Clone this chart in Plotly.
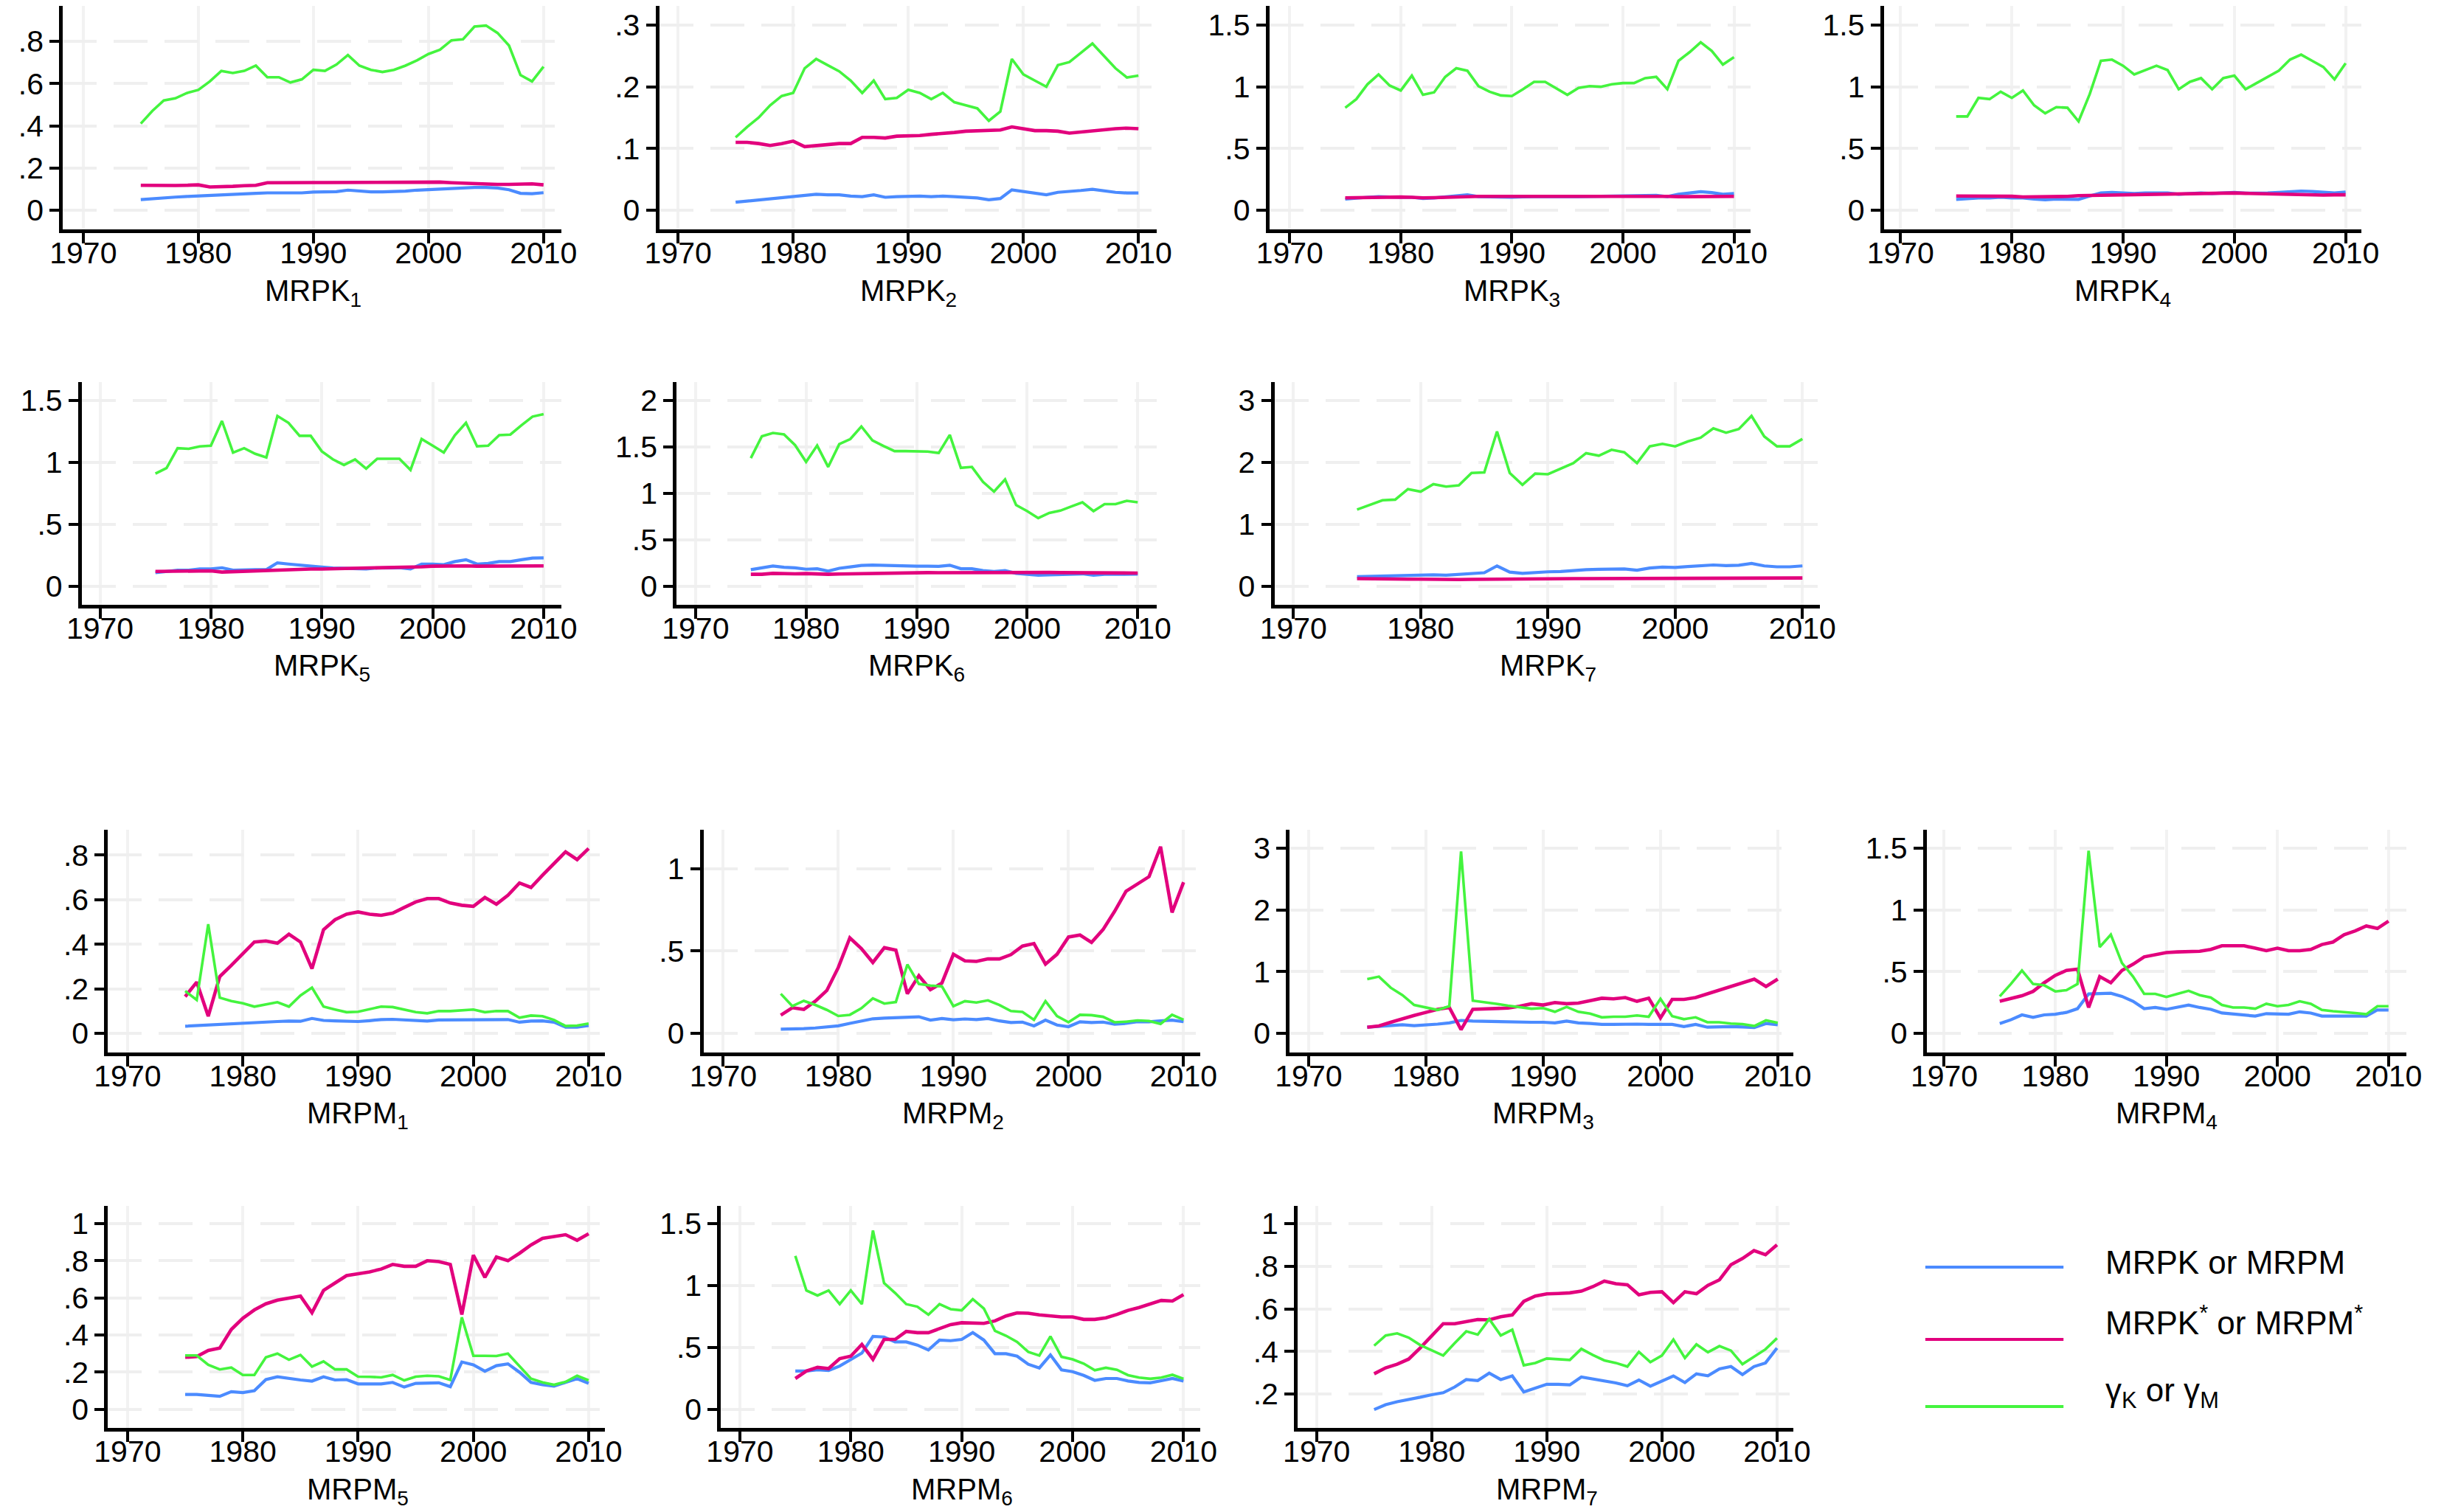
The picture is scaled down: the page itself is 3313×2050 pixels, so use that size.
import plotly.graph_objects as go

W, H = 3313, 2050
years = list(range(1975, 2011))

# ---------------- data ----------------
K1_base = [0.05,0.055,0.06,0.062,0.065,0.068,0.068,0.072,0.075,0.078,
           0.08,0.082,0.082,0.08,0.082,0.086,0.088,0.088,0.095,0.09,
           0.087,0.087,0.088,0.09,0.095,0.098,0.1,0.103,0.104,0.108,
           0.108,0.105,0.097,0.08,0.078,0.083]
K1_star = [0.118,0.117,0.116,0.117,0.118,0.12,0.11,0.11,0.113,0.116,
           0.118,0.13,0.131,0.131,0.131,0.131,0.131,0.131,0.132,0.132,
           0.133,0.133,0.133,0.132,0.133,0.134,0.133,0.13,0.127,0.124,
           0.123,0.122,0.122,0.123,0.125,0.12]
K1_gamma = [0.41,0.47,0.52,0.53,0.555,0.57,0.61,0.66,0.65,0.66,
            0.685,0.63,0.63,0.605,0.62,0.665,0.66,0.69,0.735,0.685,
            0.665,0.655,0.665,0.685,0.71,0.74,0.76,0.805,0.81,0.87,
            0.875,0.84,0.78,0.64,0.61,0.68]

K2_base = [0.013,0.015,0.017,0.019,0.021,0.023,0.025,0.026,0.025,0.025,
           0.023,0.022,0.025,0.021,0.022,0.023,0.023,0.022,0.023,0.022,
           0.021,0.02,0.017,0.019,0.033,0.03,0.027,0.025,0.029,0.03,
           0.032,0.034,0.031,0.029,0.028,0.028]
K2_star = [0.11,0.11,0.108,0.105,0.108,0.112,0.103,0.105,0.106,0.108,
           0.108,0.118,0.118,0.117,0.12,0.12,0.121,0.123,0.124,0.126,
           0.128,0.129,0.13,0.13,0.135,0.132,0.129,0.129,0.128,0.125,
           0.127,0.128,0.13,0.132,0.133,0.132]
K2_gamma = [0.118,0.135,0.15,0.17,0.185,0.19,0.23,0.245,0.235,0.225,
            0.21,0.19,0.21,0.18,0.182,0.195,0.19,0.18,0.19,0.175,
            0.17,0.165,0.145,0.16,0.245,0.22,0.21,0.2,0.235,0.24,
            0.255,0.27,0.25,0.23,0.215,0.218]

K3_base = [0.09,0.1,0.105,0.11,0.105,0.105,0.105,0.095,0.1,0.11,
           0.12,0.125,0.11,0.107,0.105,0.105,0.108,0.112,0.112,0.11,
           0.107,0.11,0.112,0.113,0.115,0.117,0.117,0.12,0.12,0.11,
           0.13,0.14,0.15,0.143,0.13,0.135]
K3_star = [0.1,0.102,0.103,0.105,0.105,0.107,0.105,0.1,0.102,0.105,
           0.108,0.113,0.112,0.112,0.112,0.112,0.112,0.112,0.113,0.112,
           0.112,0.113,0.114,0.115,0.115,0.116,0.116,0.117,0.118,0.112,
           0.11,0.11,0.111,0.112,0.112,0.112]
K3_gamma = [0.83,0.90,1.02,1.10,1.01,0.97,1.09,0.935,0.955,1.08,
            1.15,1.13,1.005,0.96,0.93,0.925,0.98,1.04,1.04,0.99,
            0.935,0.99,1.005,1.0,1.02,1.03,1.03,1.07,1.08,0.98,
            1.21,1.28,1.36,1.29,1.18,1.24]

K4_base = [0.088,0.095,0.1,0.1,0.105,0.1,0.1,0.09,0.085,0.09,
           0.09,0.088,0.115,0.14,0.145,0.14,0.135,0.14,0.14,0.14,
           0.13,0.135,0.14,0.135,0.14,0.145,0.138,0.138,0.14,0.145,
           0.15,0.155,0.152,0.145,0.14,0.148]
K4_star = [0.115,0.115,0.113,0.113,0.115,0.113,0.108,0.108,0.11,0.11,
           0.112,0.118,0.12,0.122,0.123,0.125,0.125,0.127,0.13,0.13,
           0.132,0.135,0.137,0.137,0.14,0.14,0.137,0.135,0.132,0.13,
           0.125,0.122,0.122,0.123,0.125,0.125]
K4_gamma = [0.76,0.76,0.91,0.90,0.96,0.91,0.97,0.85,0.785,0.835,
            0.83,0.72,0.94,1.21,1.22,1.17,1.10,1.135,1.17,1.135,
            0.98,1.04,1.07,0.98,1.07,1.09,0.98,1.03,1.08,1.13,
            1.22,1.26,1.21,1.16,1.06,1.19]

K5_base = [0.11,0.12,0.13,0.13,0.14,0.14,0.15,0.13,0.135,0.135,
           0.135,0.19,0.18,0.17,0.165,0.155,0.148,0.145,0.145,0.14,
           0.148,0.15,0.15,0.14,0.18,0.18,0.175,0.2,0.215,0.18,
           0.185,0.2,0.2,0.215,0.228,0.23]
K5_star = [0.12,0.12,0.12,0.12,0.125,0.125,0.115,0.118,0.122,0.125,
           0.128,0.135,0.137,0.14,0.14,0.14,0.142,0.143,0.143,0.143,
           0.145,0.147,0.15,0.152,0.158,0.163,0.165,0.168,0.165,0.163,
           0.163,0.165,0.165,0.168,0.168,0.165]
K5_gamma = [0.91,0.955,1.115,1.11,1.13,1.135,1.335,1.08,1.115,1.07,
            1.04,1.375,1.32,1.215,1.215,1.09,1.025,0.98,1.025,0.95,
            1.03,1.03,1.03,0.94,1.19,1.135,1.08,1.22,1.32,1.13,
            1.135,1.22,1.225,1.3,1.37,1.39]

K6_base = [0.18,0.2,0.22,0.205,0.2,0.185,0.19,0.165,0.195,0.21,
           0.225,0.23,0.225,0.22,0.218,0.218,0.218,0.215,0.228,0.19,
           0.19,0.17,0.16,0.17,0.14,0.13,0.12,0.125,0.13,0.13,
           0.135,0.12,0.13,0.13,0.133,0.132]
K6_star = [0.13,0.13,0.14,0.135,0.135,0.138,0.13,0.13,0.133,0.135,
           0.138,0.145,0.147,0.148,0.148,0.148,0.148,0.147,0.148,0.145,
           0.148,0.15,0.152,0.153,0.153,0.152,0.15,0.15,0.148,0.147,
           0.145,0.145,0.145,0.145,0.143,0.143]
K6_gamma = [1.38,1.615,1.65,1.635,1.52,1.34,1.515,1.285,1.53,1.585,
            1.72,1.57,1.51,1.455,1.455,1.45,1.45,1.435,1.63,1.275,
            1.285,1.125,1.02,1.15,0.875,0.81,0.735,0.79,0.815,0.86,
            0.905,0.81,0.885,0.885,0.92,0.905]

K7_base = [0.155,0.16,0.165,0.17,0.18,0.185,0.185,0.18,0.19,0.21,
           0.22,0.33,0.23,0.21,0.225,0.235,0.24,0.26,0.27,0.275,
           0.28,0.28,0.26,0.295,0.31,0.305,0.32,0.33,0.345,0.335,
           0.34,0.37,0.33,0.315,0.315,0.33]
K7_star = [0.125,0.12,0.12,0.118,0.115,0.115,0.11,0.108,0.11,0.112,
           0.115,0.118,0.12,0.122,0.122,0.123,0.124,0.125,0.125,0.125,
           0.125,0.125,0.123,0.125,0.13,0.13,0.132,0.133,0.133,0.13,
           0.13,0.132,0.133,0.135,0.135,0.135]
K7_gamma = [1.24,1.32,1.39,1.40,1.57,1.53,1.65,1.61,1.63,1.83,
            1.84,2.50,1.83,1.64,1.82,1.81,1.90,1.99,2.15,2.11,
            2.205,2.165,1.99,2.26,2.30,2.26,2.34,2.40,2.55,2.48,
            2.54,2.75,2.42,2.26,2.26,2.38]

M1_base = [0.032,0.035,0.038,0.04,0.042,0.045,0.048,0.05,0.053,0.055,
           0.054,0.067,0.058,0.056,0.055,0.053,0.057,0.062,0.063,0.06,
           0.057,0.055,0.06,0.06,0.06,0.062,0.062,0.06,0.062,0.05,
           0.055,0.056,0.05,0.028,0.028,0.035]
M1_star = [0.165,0.23,0.077,0.255,0.305,0.355,0.41,0.415,0.405,0.445,
           0.41,0.29,0.465,0.51,0.535,0.545,0.535,0.53,0.54,0.565,
           0.59,0.605,0.605,0.585,0.575,0.57,0.61,0.58,0.62,0.675,
           0.655,0.71,0.76,0.815,0.78,0.83]
M1_gamma = [0.19,0.15,0.49,0.16,0.145,0.135,0.12,0.13,0.14,0.12,
            0.17,0.205,0.12,0.107,0.095,0.097,0.11,0.12,0.118,0.107,
            0.095,0.09,0.1,0.1,0.103,0.107,0.095,0.1,0.1,0.07,
            0.08,0.077,0.06,0.033,0.035,0.044]

M2_base = [0.025,0.025,0.028,0.032,0.038,0.045,0.06,0.075,0.088,0.092,
           0.095,0.098,0.1,0.08,0.09,0.082,0.087,0.083,0.09,0.075,
           0.065,0.068,0.045,0.08,0.05,0.04,0.07,0.065,0.068,0.055,
           0.06,0.07,0.07,0.075,0.08,0.07]
M2_star = [0.11,0.155,0.145,0.195,0.26,0.40,0.58,0.515,0.43,0.52,
           0.505,0.24,0.35,0.265,0.305,0.48,0.44,0.437,0.452,0.452,
           0.478,0.53,0.545,0.42,0.48,0.585,0.597,0.552,0.63,0.74,
           0.863,0.91,0.952,1.134,0.734,0.918]
M2_gamma = [0.24,0.165,0.197,0.172,0.142,0.105,0.112,0.152,0.212,0.18,
            0.19,0.418,0.3,0.29,0.285,0.165,0.195,0.187,0.2,0.172,
            0.135,0.13,0.082,0.195,0.105,0.067,0.112,0.11,0.1,0.067,
            0.07,0.078,0.075,0.057,0.112,0.082]

M3_base = [0.1,0.11,0.13,0.14,0.125,0.135,0.15,0.17,0.21,0.2,
           0.195,0.19,0.18,0.18,0.18,0.18,0.17,0.2,0.17,0.16,
           0.145,0.145,0.15,0.15,0.145,0.14,0.145,0.11,0.145,0.1,
           0.11,0.11,0.105,0.095,0.16,0.14]
M3_star = [0.1,0.12,0.18,0.24,0.29,0.34,0.39,0.42,0.06,0.39,
           0.4,0.4,0.41,0.44,0.48,0.46,0.5,0.48,0.49,0.53,
           0.57,0.56,0.58,0.52,0.57,0.25,0.55,0.55,0.58,0.64,
           0.7,0.77,0.82,0.88,0.76,0.88]
M3_gamma = [0.88,0.92,0.74,0.62,0.46,0.42,0.38,0.44,2.95,0.53,
            0.51,0.48,0.45,0.43,0.40,0.41,0.35,0.43,0.35,0.32,
            0.26,0.27,0.27,0.29,0.27,0.56,0.28,0.23,0.26,0.18,
            0.18,0.16,0.15,0.12,0.21,0.17]

M4_base = [0.08,0.11,0.15,0.13,0.15,0.155,0.17,0.2,0.32,0.32,
           0.325,0.3,0.26,0.2,0.21,0.195,0.21,0.23,0.21,0.195,
           0.165,0.155,0.15,0.14,0.16,0.155,0.155,0.175,0.165,0.14,
           0.14,0.14,0.14,0.14,0.19,0.19]
M4_star = [0.26,0.28,0.305,0.34,0.41,0.47,0.51,0.52,0.21,0.46,
           0.41,0.51,0.56,0.62,0.64,0.655,0.66,0.66,0.665,0.68,
           0.71,0.71,0.71,0.69,0.67,0.69,0.67,0.67,0.68,0.72,
           0.74,0.80,0.83,0.87,0.85,0.91]
M4_gamma = [0.30,0.40,0.51,0.40,0.39,0.34,0.35,0.40,1.48,0.70,
            0.80,0.57,0.46,0.32,0.32,0.295,0.32,0.345,0.31,0.29,
            0.23,0.21,0.21,0.20,0.24,0.22,0.23,0.26,0.24,0.19,
            0.18,0.175,0.165,0.155,0.22,0.22]

M5_base = [0.08,0.08,0.075,0.07,0.095,0.09,0.1,0.16,0.175,0.165,
           0.158,0.152,0.175,0.158,0.16,0.137,0.137,0.137,0.145,0.12,
           0.14,0.143,0.143,0.122,0.255,0.24,0.205,0.235,0.245,0.2,
           0.145,0.133,0.125,0.145,0.165,0.14]
M5_star = [0.28,0.284,0.317,0.33,0.43,0.49,0.535,0.568,0.588,0.60,
           0.61,0.52,0.64,0.68,0.72,0.73,0.74,0.755,0.78,0.77,
           0.77,0.80,0.795,0.78,0.51,0.83,0.71,0.82,0.80,0.84,
           0.885,0.92,0.93,0.94,0.91,0.945]
M5_gamma = [0.29,0.29,0.24,0.215,0.225,0.185,0.185,0.28,0.30,0.267,
            0.293,0.23,0.258,0.215,0.215,0.176,0.175,0.172,0.185,0.156,
            0.176,0.181,0.178,0.158,0.495,0.288,0.288,0.287,0.30,0.23,
            0.165,0.145,0.132,0.148,0.181,0.156]

M6_base = [0.31,0.31,0.32,0.315,0.35,0.405,0.455,0.59,0.585,0.545,
           0.545,0.52,0.48,0.56,0.555,0.565,0.62,0.56,0.45,0.45,
           0.43,0.365,0.335,0.44,0.32,0.305,0.275,0.235,0.25,0.25,
           0.23,0.218,0.215,0.232,0.25,0.23]
M6_star = [0.25,0.31,0.34,0.33,0.41,0.43,0.525,0.405,0.565,0.565,
           0.63,0.62,0.62,0.655,0.685,0.70,0.70,0.695,0.715,0.755,
           0.78,0.777,0.763,0.753,0.747,0.747,0.727,0.727,0.74,0.767,
           0.80,0.823,0.848,0.88,0.875,0.927]
M6_gamma = [1.24,0.96,0.92,0.96,0.85,0.96,0.85,1.445,1.02,0.94,
            0.85,0.83,0.765,0.85,0.81,0.80,0.89,0.815,0.635,0.595,
            0.545,0.465,0.435,0.59,0.425,0.405,0.37,0.317,0.337,0.32,
            0.277,0.257,0.248,0.257,0.28,0.248]

M7_base = [0.127,0.15,0.164,0.173,0.185,0.197,0.206,0.233,0.268,0.263,
           0.298,0.268,0.285,0.21,0.229,0.246,0.246,0.243,0.28,0.271,
           0.263,0.252,0.239,0.266,0.237,0.26,0.285,0.254,0.295,0.286,
           0.318,0.329,0.291,0.329,0.346,0.416]
M7_star = [0.295,0.323,0.34,0.364,0.416,0.475,0.53,0.53,0.542,0.55,
           0.548,0.563,0.571,0.635,0.66,0.67,0.672,0.675,0.683,0.704,
           0.73,0.718,0.713,0.666,0.677,0.68,0.629,0.68,0.671,0.71,
           0.736,0.807,0.836,0.873,0.854,0.90]
M7_gamma = [0.427,0.475,0.485,0.465,0.43,0.404,0.381,0.439,0.494,0.479,
            0.552,0.475,0.502,0.335,0.346,0.367,0.364,0.36,0.412,0.383,
            0.358,0.346,0.329,0.398,0.35,0.381,0.456,0.369,0.433,0.396,
            0.425,0.404,0.34,0.375,0.41,0.462]

x_ticks = [1970, 1980, 1990, 2000, 2010]
panel_titles = ["MRPK<sub>1</sub>", "MRPK<sub>2</sub>", "MRPK<sub>3</sub>", "MRPK<sub>4</sub>",
                "MRPK<sub>5</sub>", "MRPK<sub>6</sub>", "MRPK<sub>7</sub>",
                "MRPM<sub>1</sub>", "MRPM<sub>2</sub>", "MRPM<sub>3</sub>", "MRPM<sub>4</sub>",
                "MRPM<sub>5</sub>", "MRPM<sub>6</sub>", "MRPM<sub>7</sub>"]
y_tick_vals = [[0, .2, .4, .6, .8], [0, .1, .2, .3], [0, .5, 1, 1.5], [0, .5, 1, 1.5],
               [0, .5, 1, 1.5], [0, .5, 1, 1.5, 2], [0, 1, 2, 3],
               [0, .2, .4, .6, .8], [0, .5, 1], [0, 1, 2, 3], [0, .5, 1, 1.5],
               [0, .2, .4, .6, .8, 1], [0, .5, 1, 1.5], [.2, .4, .6, .8, 1]]
series = [(K1_base, K1_star, K1_gamma), (K2_base, K2_star, K2_gamma),
          (K3_base, K3_star, K3_gamma), (K4_base, K4_star, K4_gamma),
          (K5_base, K5_star, K5_gamma), (K6_base, K6_star, K6_gamma),
          (K7_base, K7_star, K7_gamma),
          (M1_base, M1_star, M1_gamma), (M2_base, M2_star, M2_gamma),
          (M3_base, M3_star, M3_gamma), (M4_base, M4_star, M4_gamma),
          (M5_base, M5_star, M5_gamma), (M6_base, M6_star, M6_gamma),
          (M7_base, M7_star, M7_gamma)]
legend_labels = ["MRPK or MRPM", "MRPK<sup>*</sup> or MRPM<sup>*</sup>",
                 "γ<sub>K</sub> or γ<sub>M</sub>"]

# ---------------- geometry (pixels) ----------------
# (axis-left px, axis-right px, top px, bottom px, x range, y range)
geom = [
    (55, 740, 0, 303, [1968.23, 2011.52], [-0.091, 0.968]),
    (875, 1559, 0, 303, [1968.36, 2011.58], [-0.031, 0.331]),
    (1714, 2376, 0, 303, [1968.17, 2011.51], [-0.155, 1.655]),
    (2559, 3216, 0, 303, [1968.5, 2011.44], [-0.155, 1.655]),
    (81, 740, 510, 812, [1968.36, 2011.57], [-0.149, 1.649]),
    (899, 1559, 510, 812, [1968.29, 2011.71], [-0.198, 2.198]),
    (1721, 2471, 510, 812, [1968.51, 2011.37], [-0.298, 3.298]),
    (117, 800, 1117, 1419, [1968.30, 2011.39], [-0.086, 0.914]),
    (936, 1619, 1117, 1419, [1968.29, 2011.45], [-0.117, 1.237]),
    (1742, 2435, 1117, 1419, [1968.39, 2011.36], [-0.31, 3.30]),
    (2618, 3278, 1117, 1419, [1968.43, 2011.64], [-0.155, 1.65]),
    (117, 800, 1627, 1928, [1968.30, 2011.39], [-0.10, 1.095]),
    (960, 1619, 1627, 1928, [1968.30, 2011.51], [-0.149, 1.643]),
    (1753, 2435, 1627, 1928, [1968.36, 2011.45], [0.041, 1.083]),
]
title_y = [389, 389, 389, 389, 897, 897, 897, 1504, 1504, 1504, 1504, 2014, 2014, 2014]

BLUE = "#4B8BFF"
RED = "#E2007D"
GREEN = "#44F43E"
FONT = "Liberation Sans, Arial, Helvetica, sans-serif"


def fmt(v):
    s = ("%g" % v)
    if s.startswith("0."):
        s = s[1:]
    return s


fig = go.Figure()
annotations = []
for i, (ser, g, yt, title) in enumerate(zip(series, geom, y_tick_vals, panel_titles), start=1):
    xa = "x" if i == 1 else f"x{i}"
    ya = "y" if i == 1 else f"y{i}"
    base, star, gam = ser
    for vals, col, w in [(base, BLUE, 4.2), (star, RED, 4.6), (gam, GREEN, 3.6)]:
        fig.add_trace(go.Scatter(x=years, y=vals, mode="lines",
                                 line=dict(color=col, width=w),
                                 xaxis=xa, yaxis=ya, showlegend=False,
                                 hoverinfo="skip"))
    x0, x1, ytop, ybot, xr, yr = g
    xkey = "xaxis" if i == 1 else f"xaxis{i}"
    ykey = "yaxis" if i == 1 else f"yaxis{i}"
    fig.update_layout(**{
        xkey: dict(domain=[x0 / W, x1 / W], anchor=ya, range=xr,
                   tickmode="array", tickvals=x_ticks,
                   ticktext=[str(t) for t in x_ticks],
                   ticks="outside", ticklen=14, tickwidth=4, tickcolor="black",
                   ticklabelstandoff=-22,
                   showline=True, linewidth=5, linecolor="black",
                   showgrid=True, gridcolor="#F2F2F2", gridwidth=4,
                   zeroline=False, fixedrange=True,
                   tickfont=dict(family=FONT, size=41, color="black")),
        ykey: dict(domain=[1 - ybot / H, 1 - ytop / H], anchor=xa, range=yr,
                   tickmode="array", tickvals=yt, ticktext=[fmt(v) for v in yt],
                   ticks="outside", ticklen=13, tickwidth=4, tickcolor="black",
                   showline=True, linewidth=5, linecolor="black",
                   showgrid=True, gridcolor="#EFEFEF", gridwidth=4,
                   griddash="46px,23px",
                   zeroline=False, fixedrange=True,
                   tickfont=dict(family=FONT, size=41, color="black")),
    })
    annotations.append(dict(text=title, xref=xa, x=1990, yref="paper",
                            y=1 - title_y[i - 1] / H, xanchor="center",
                            yanchor="middle", showarrow=False,
                            font=dict(family=FONT, size=40, color="black")))

# legend drawn manually (long line samples, as in the reference)
leg_line_y = [1710, 1808, 1899]
leg_text_y = [1703, 1782, 1880]
shapes = []
for col, ly, ty, lab in zip([BLUE, RED, GREEN], leg_line_y, leg_text_y, legend_labels):
    shapes.append(dict(type="line", xref="paper", yref="paper",
                       x0=2616 / W, x1=2806 / W, y0=1 - ly / H, y1=1 - ly / H,
                       line=dict(color=col, width=4)))
    annotations.append(dict(text=lab, xref="paper", yref="paper",
                            x=2862 / W, y=1 - ty / H, xanchor="left",
                            yanchor="middle", showarrow=False,
                            font=dict(family=FONT, size=44, color="black")))

fig.update_layout(width=W, height=H, margin=dict(l=0, r=0, t=0, b=0),
                  paper_bgcolor="white", plot_bgcolor="white",
                  showlegend=False, annotations=annotations, shapes=shapes,
                  font=dict(family=FONT, color="black"))

fig.write_html("out.html")
